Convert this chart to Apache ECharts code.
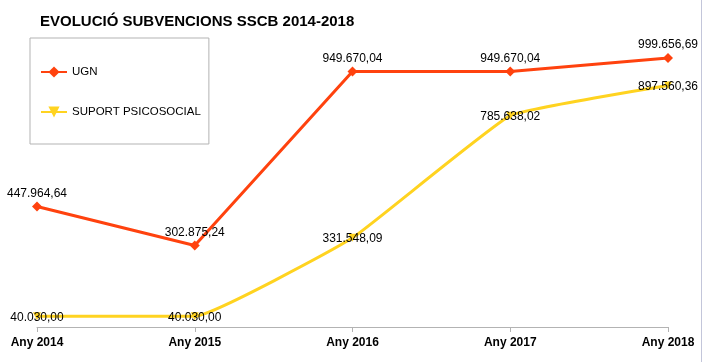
<!DOCTYPE html>
<html>
<head>
<meta charset="utf-8">
<script src="https://cdn.jsdelivr.net/npm/echarts@6/dist/echarts.min.js"></script>
<style>
html,body{margin:0;padding:0;background:#fff;}
#c{width:702px;height:362px;}
</style>
</head>
<body>
<div id="c"></div>
<script>
const categories = ['Any 2014', 'Any 2015', 'Any 2016', 'Any 2017', 'Any 2018'];
const ugnValues = [447964.64, 302875.24, 949670.04, 949670.04, 999656.69];
const suportValues = [40030.00, 40030.00, 331548.09, 785638.02, 897560.36];
const seriesNames = ['UGN', 'SUPORT PSICOSOCIAL'];
const titleText = 'EVOLUCIÓ SUBVENCIONS SSCB 2014-2018';

function fmt(v) {
  const parts = v.toFixed(2).split('.');
  const intPart = parts[0].replace(/\B(?=(\d{3})+(?!\d))/g, '.');
  return intPart + ',' + parts[1];
}

const font = 'Liberation Sans';
const chart = echarts.init(document.getElementById('c'), null, {renderer: 'canvas'});
chart.setOption({
  animation: false,
  backgroundColor: '#ffffff',
  title: {
    text: titleText,
    left: 40,
    top: 14,
    padding: 0,
    textStyle: {fontFamily: font, fontSize: 15, fontWeight: 'bold', color: '#000'}
  },
  legend: {
    orient: 'vertical',
    left: 30,
    top: 38,
    padding: [28, 8, 26, 10],
    itemGap: 28,
    itemWidth: 26,
    itemHeight: 14,
    borderColor: '#b3b3b3',
    borderWidth: 1,
    textStyle: {fontFamily: font, fontSize: 11.5, color: '#000'},
    data: seriesNames
  },
  grid: {left: 37, right: 34, top: 58, bottom: 35, containLabel: false},
  xAxis: {
    type: 'category',
    data: categories,
    boundaryGap: false,
    axisLine: {lineStyle: {color: '#b3b3b3', width: 1}},
    axisTick: {alignWithLabel: true, length: 5, lineStyle: {color: '#b3b3b3'}},
    axisLabel: {fontFamily: font, fontSize: 12, fontWeight: 'bold', color: '#000', margin: 10}
  },
  yAxis: {
    type: 'value',
    min: 0,
    max: 1000000,
    show: false,
    splitLine: {show: false}
  },
  series: [
    {
      name: seriesNames[0],
      type: 'line',
      data: ugnValues,
      symbol: 'diamond',
      symbolSize: 10,
      color: '#ff420e',
      lineStyle: {width: 3, color: '#ff420e'},
      itemStyle: {color: '#ff420e'},
      label: {
        show: true,
        position: 'top',
        distance: 2,
        fontFamily: font,
        fontSize: 12,
        color: '#000',
        formatter: p => fmt(p.value)
      },
      z: 3
    },
    {
      name: seriesNames[1],
      type: 'line',
      data: suportValues,
      smooth: 0.1,
      symbol: 'triangle',
      symbolRotate: 180,
      symbolSize: 8,
      color: '#ffd320',
      lineStyle: {width: 3, color: '#ffd320'},
      itemStyle: {color: '#ffd320'},
      label: {
        show: true,
        position: 'inside',
        offset: [0, 1],
        fontFamily: font,
        fontSize: 12,
        color: '#000',
        formatter: p => fmt(p.value)
      },
      z: 2
    }
  ],
  graphic: [
    {
      type: 'line',
      shape: {x1: 701.5, y1: 0, x2: 701.5, y2: 362},
      style: {stroke: '#c3c6da', lineWidth: 1},
      silent: true
    }
  ]
});
</script>
</body>
</html>
